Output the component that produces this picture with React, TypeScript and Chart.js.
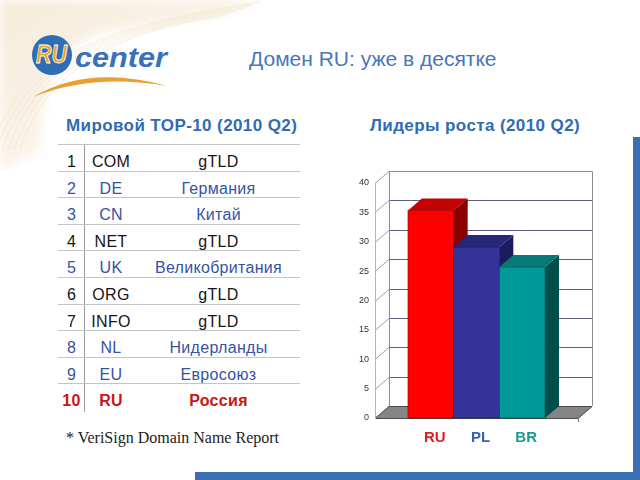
import React, { useEffect, useRef } from "react";
import { Chart, registerables } from "chart.js";

Chart.register(...registerables);

// ---- chart data ----
const countries = ["RU", "PL", "BR"];
const growthValues = [35.3, 29.1, 25.7];
const yMin = 0;
const yMax = 40;
const yStep = 5;

// ---- table data ----
const ranks = ["1", "2", "3", "4", "5", "6", "7", "8", "9", "10"];
const zones = ["COM", "DE", "CN", "NET", "UK", "ORG", "INFO", "NL", "EU", "RU"];
const zoneTypes = [
  "gTLD",
  "Германия",
  "Китай",
  "gTLD",
  "Великобритания",
  "gTLD",
  "gTLD",
  "Нидерланды",
  "Евросоюз",
  "Россия",
];
const rowGroups = ["g", "c", "c", "g", "c", "g", "g", "c", "c", "ru"];

// ---- styles ----
const frontColors = ["#ff0000", "#333399", "#009999"];
const sideColors = ["#8a0000", "#1b1b5e", "#004e4c"];
const topColors = ["#c40000", "#27277a", "#067a76"];
const labelColors = ["#e41e1e", "#3565b0", "#1d9893"];
const groupColors: Record<string, string> = { g: "#151515", c: "#3553a6", ru: "#cc1414" };

const DX = 14;
const DY = -12;

const depthPlugin = {
  id: "depth3d",
  beforeDatasetsDraw(chart: any) {
    const { ctx, chartArea: a, scales } = chart;
    const ys = scales.y;
    const w = a.right - a.left;
    ctx.save();
    // back wall
    ctx.fillStyle = "#ffffff";
    ctx.fillRect(a.left + DX, a.top + DY, w, a.bottom - a.top);
    // gridlines on back wall + side diagonals
    ys.ticks.forEach((t: any) => {
      const py = Math.round(ys.getPixelForValue(t.value)) + 0.5;
      if (t.value > yMin) {
        ctx.strokeStyle = "#5e5e80";
        ctx.lineWidth = 1;
        ctx.beginPath();
        ctx.moveTo(a.left + DX, py + DY);
        ctx.lineTo(a.right + DX, py + DY);
        ctx.stroke();
      }
      ctx.strokeStyle = "#a0a0a0";
      ctx.beginPath();
      ctx.moveTo(a.left, py);
      ctx.lineTo(a.left + DX, py + DY);
      ctx.stroke();
    });
    // wall edges
    ctx.strokeStyle = "#8c8c8c";
    ctx.lineWidth = 1;
    ctx.beginPath();
    ctx.moveTo(a.left + DX + 0.5, a.bottom + DY);
    ctx.lineTo(a.left + DX + 0.5, a.top + DY + 0.5);
    ctx.lineTo(a.right + DX + 0.5, a.top + DY + 0.5);
    ctx.lineTo(a.right + DX + 0.5, a.bottom + DY);
    ctx.stroke();
    // floor
    ctx.fillStyle = "#858585";
    ctx.strokeStyle = "#4a4a4a";
    ctx.beginPath();
    ctx.moveTo(a.left, a.bottom + 0.5);
    ctx.lineTo(a.right, a.bottom + 0.5);
    ctx.lineTo(a.right + DX, a.bottom + DY + 0.5);
    ctx.lineTo(a.left + DX, a.bottom + DY + 0.5);
    ctx.closePath();
    ctx.fill();
    ctx.stroke();
    ctx.strokeStyle = "#777";
    ctx.beginPath();
    ctx.moveTo(a.right + 0.5, a.bottom);
    ctx.lineTo(a.right + 0.5, a.bottom + 4);
    ctx.stroke();
    // front value axis
    ctx.strokeStyle = "#e6aa6c";
    ctx.beginPath();
    ctx.moveTo(a.left + 0.5, ys.getPixelForValue(yMax));
    ctx.lineTo(a.left + 0.5, a.bottom + 1);
    ctx.stroke();
    ctx.restore();
  },
  afterDatasetsDraw(chart: any) {
    const { ctx, chartArea: a } = chart;
    ctx.save();
    chart.data.datasets.forEach((ds: any, i: number) => {
      const meta = chart.getDatasetMeta(i);
      meta.data.forEach((bar: any) => {
        const p = bar.getProps(["x", "y", "width", "base"], true);
        const l = p.x - p.width / 2;
        const r = p.x + p.width / 2;
        const top = p.y;
        const base = p.base;
        // side
        ctx.fillStyle = sideColors[i];
        ctx.beginPath();
        ctx.moveTo(r, top);
        ctx.lineTo(r + DX, top + DY);
        ctx.lineTo(r + DX, base + DY);
        ctx.lineTo(r, base);
        ctx.closePath();
        ctx.fill();
        // top
        ctx.fillStyle = topColors[i];
        ctx.beginPath();
        ctx.moveTo(l, top);
        ctx.lineTo(r, top);
        ctx.lineTo(r + DX, top + DY);
        ctx.lineTo(l + DX, top + DY);
        ctx.closePath();
        ctx.fill();
        // front
        ctx.fillStyle = frontColors[i];
        ctx.fillRect(l, top, r - l, base - top);
        ctx.strokeStyle = sideColors[i];
        ctx.lineWidth = 0.6;
        ctx.strokeRect(l, top, r - l, base - top);
        // category label under bar
        ctx.fillStyle = labelColors[i];
        ctx.font = "bold 15px 'Liberation Sans', Arial, sans-serif";
        ctx.textAlign = "center";
        ctx.textBaseline = "middle";
        ctx.fillText(ds.label, p.x + 4, a.bottom + 20);
      });
    });
    ctx.restore();
  },
};

const abs = (left: number, top: number, extra: React.CSSProperties = {}): React.CSSProperties => ({
  position: "absolute",
  left,
  top,
  whiteSpace: "nowrap",
  ...extra,
});

export default function App() {
  const ref = useRef<HTMLCanvasElement>(null);

  useEffect(() => {
    document.body.style.margin = "0";
    const chart = new Chart(ref.current as HTMLCanvasElement, {
      type: "bar",
      data: {
        labels: ["2010 Q2"],
        datasets: countries.map((c, i) => ({
          label: c,
          data: [growthValues[i]],
          backgroundColor: frontColors[i],
          borderWidth: 0,
        })),
      },
      plugins: [depthPlugin],
      options: {
        animation: false,
        responsive: false,
        devicePixelRatio: 1,
        layout: { padding: { top: 23, right: 42, bottom: 32, left: 0 } },
        plugins: { legend: { display: false }, tooltip: { enabled: false } },
        datasets: { bar: { categoryPercentage: 0.675, barPercentage: 1 } },
        scales: {
          x: { display: false },
          y: {
            min: yMin,
            max: yMax,
            ticks: {
              stepSize: yStep,
              padding: 6,
              color: "#333",
              font: { size: 9, family: "'Liberation Sans', Arial, sans-serif" },
            },
            grid: { display: false, drawTicks: false },
            border: { display: false },
            afterFit: (s: any) => {
              s.width = 45;
            },
          },
        },
      } as any,
    });
    return () => chart.destroy();
  }, []);

  const rowTop = 144;
  const rowH = 26.6;

  return (
    <div
      style={{
        position: "fixed",
        left: 0,
        top: 0,
        width: 640,
        height: 480,
        background: "#ffffff",
        overflow: "hidden",
        fontFamily: "'Liberation Sans', Arial, sans-serif",
      }}
    >
      {/* decorative header + logo */}
      <svg width={280} height={170} style={{ position: "absolute", left: 0, top: 0 }}>
        <defs>
          <linearGradient id="bg1" x1="0" y1="0" x2="1" y2="1">
            <stop offset="0" stopColor="#f5ecda" />
            <stop offset="0.55" stopColor="#faf4ea" />
            <stop offset="1" stopColor="#ffffff" stopOpacity="0" />
          </linearGradient>
          <filter id="soft">
            <feGaussianBlur stdDeviation="5" />
          </filter>
        </defs>
        <path
          d="M0 0 L262 0 C 220 22 150 22 105 32 C 60 42 42 80 40 150 L0 170 Z"
          fill="url(#bg1)"
          filter="url(#soft)"
        />
        {[0, 1, 2, 3, 4, 5].map((k) => (
          <path
            key={k}
            d={`M${-10 + k * 6} 150 C ${20 + k * 5} 70, ${70 + k * 10} 30, ${260 - k * 8} ${2 + k * 3}`}
            stroke="#efe2c9"
            strokeWidth={0.6}
            fill="none"
          />
        ))}
        <circle cx={52} cy={55} r={20} fill="#2f6db5" />
        <text
          x={36}
          y={63}
          fontSize={25}
          fontWeight="bold"
          fontStyle="italic"
          fontFamily="'Liberation Sans', Arial, sans-serif"
          fill="#eea21f"
          stroke="#ffffff"
          strokeWidth={0.8}
          textLength={31}
          lengthAdjust="spacingAndGlyphs"
        >
          RU
        </text>
        <text
          x={75}
          y={67}
          fontSize={27}
          fontWeight="bold"
          fontStyle="italic"
          fontFamily="'Liberation Sans', Arial, sans-serif"
          fill="#3a72b9"
          textLength={92}
          lengthAdjust="spacingAndGlyphs"
        >
          center
        </text>
        <path d="M33 97 Q 88 64 168 86 Q 92 73 33 97 Z" fill="#e8a032" />
      </svg>

      <div style={abs(249, 47, { fontSize: 21, color: "#4677bb" })}>Домен RU: уже в десятке</div>

      <div
        style={abs(66, 116, { fontSize: 17, fontWeight: "bold", color: "#2f6cb3", letterSpacing: 0.4 })}
      >
        Мировой TOP-10 (2010 Q2)
      </div>
      <div
        style={abs(370, 116, { fontSize: 17, fontWeight: "bold", color: "#2f6cb3", letterSpacing: 0.4 })}
      >
        Лидеры роста (2010 Q2)
      </div>

      {/* TOP-10 table */}
      <div style={abs(84, rowTop, { width: 1, height: 268, background: "#9a9a9a" })} />
      {ranks.map((rk, i) => {
        const top = rowTop + rowH * i;
        const col = groupColors[rowGroups[i]];
        const bold = rowGroups[i] === "ru";
        const txt: React.CSSProperties = {
          fontSize: 16,
          lineHeight: "18px",
          color: col,
          fontWeight: bold ? "bold" : "normal",
          letterSpacing: 0.3,
          textAlign: "center",
        };
        return (
          <React.Fragment key={rk}>
            <div style={abs(58, Math.round(top), { width: 242, height: 1, background: "#c4c4c4" })} />
            <div style={abs(58, top + 9, { ...txt, width: 27 })}>{rk}</div>
            <div style={abs(85, top + 9, { ...txt, width: 52 })}>{zones[i]}</div>
            <div style={abs(137, top + 9, { ...txt, width: 163 })}>{zoneTypes[i]}</div>
          </React.Fragment>
        );
      })}

      <div
        style={abs(66, 429, {
          fontSize: 16,
          fontFamily: "'Liberation Serif', 'Times New Roman', serif",
          color: "#222",
        })}
      >
        * VeriSign Domain Name Report
      </div>

      <canvas
        ref={ref}
        width={290}
        height={290}
        style={{ position: "absolute", left: 330, top: 160, width: 290, height: 290 }}
      />

      {/* blue frame */}
      <div style={abs(633, 137, { width: 7, height: 343, background: "#3a6fb4" })} />
      <div style={abs(195, 472, { width: 445, height: 8, background: "#3a6fb4" })} />
    </div>
  );
}
